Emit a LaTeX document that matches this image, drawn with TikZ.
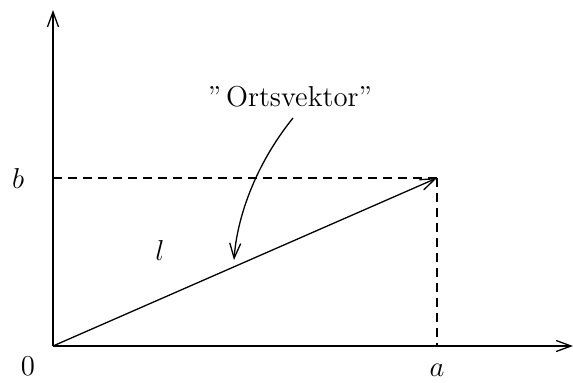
\documentclass[tikz,border=0pt]{standalone}
\usetikzlibrary{arrows.meta}
\begin{document}
\begin{tikzpicture}[x={(0.5pt,0)},y={(0,-0.5pt)},
  ln/.style={line width=0.65pt},
  tip/.style={-{Straight Barb[length=7.5pt,width=5.5pt,line width=0.65pt]}},
  dsh/.style={line width=0.65pt,dash pattern=on 4.5pt off 3pt},
  lbl/.style={inner sep=0pt,font=\fontsize{14.4}{17}\selectfont}]
\useasboundingbox (0,0) rectangle (573,382);
\coordinate (O) at (53,346);
\coordinate (ytop) at (53,10);
\coordinate (xend) at (573,346);
\coordinate (P) at (437,178);
\coordinate (Pb) at (53,178);
\coordinate (Pa) at (437,346);
\draw[ln,tip] (O) -- (ytop);
\draw[ln,tip] (O) -- (xend);
\draw[dsh] (Pb) -- (P);
\draw[dsh] (P) -- (Pa);
\draw[ln,tip] (O) -- (P);
\node[lbl] (ort) at (290,97) {\textquotedblright\,Ortsvektor\textquotedblright};
\coordinate (cs) at (293,118);
\coordinate (ce) at (234,260);
\draw[ln,tip] (cs) .. controls (255,165) and (237,218) .. (ce);
\node[lbl] (lb) at (18,178) {$b$};
\node[lbl] (ll) at (160,250) {$l$};
\node[lbl,anchor=north] (l0) at (28,357) {$0$};
\node[lbl,anchor=north] (la) at (437,364) {$a$};
\end{tikzpicture}
\end{document}
